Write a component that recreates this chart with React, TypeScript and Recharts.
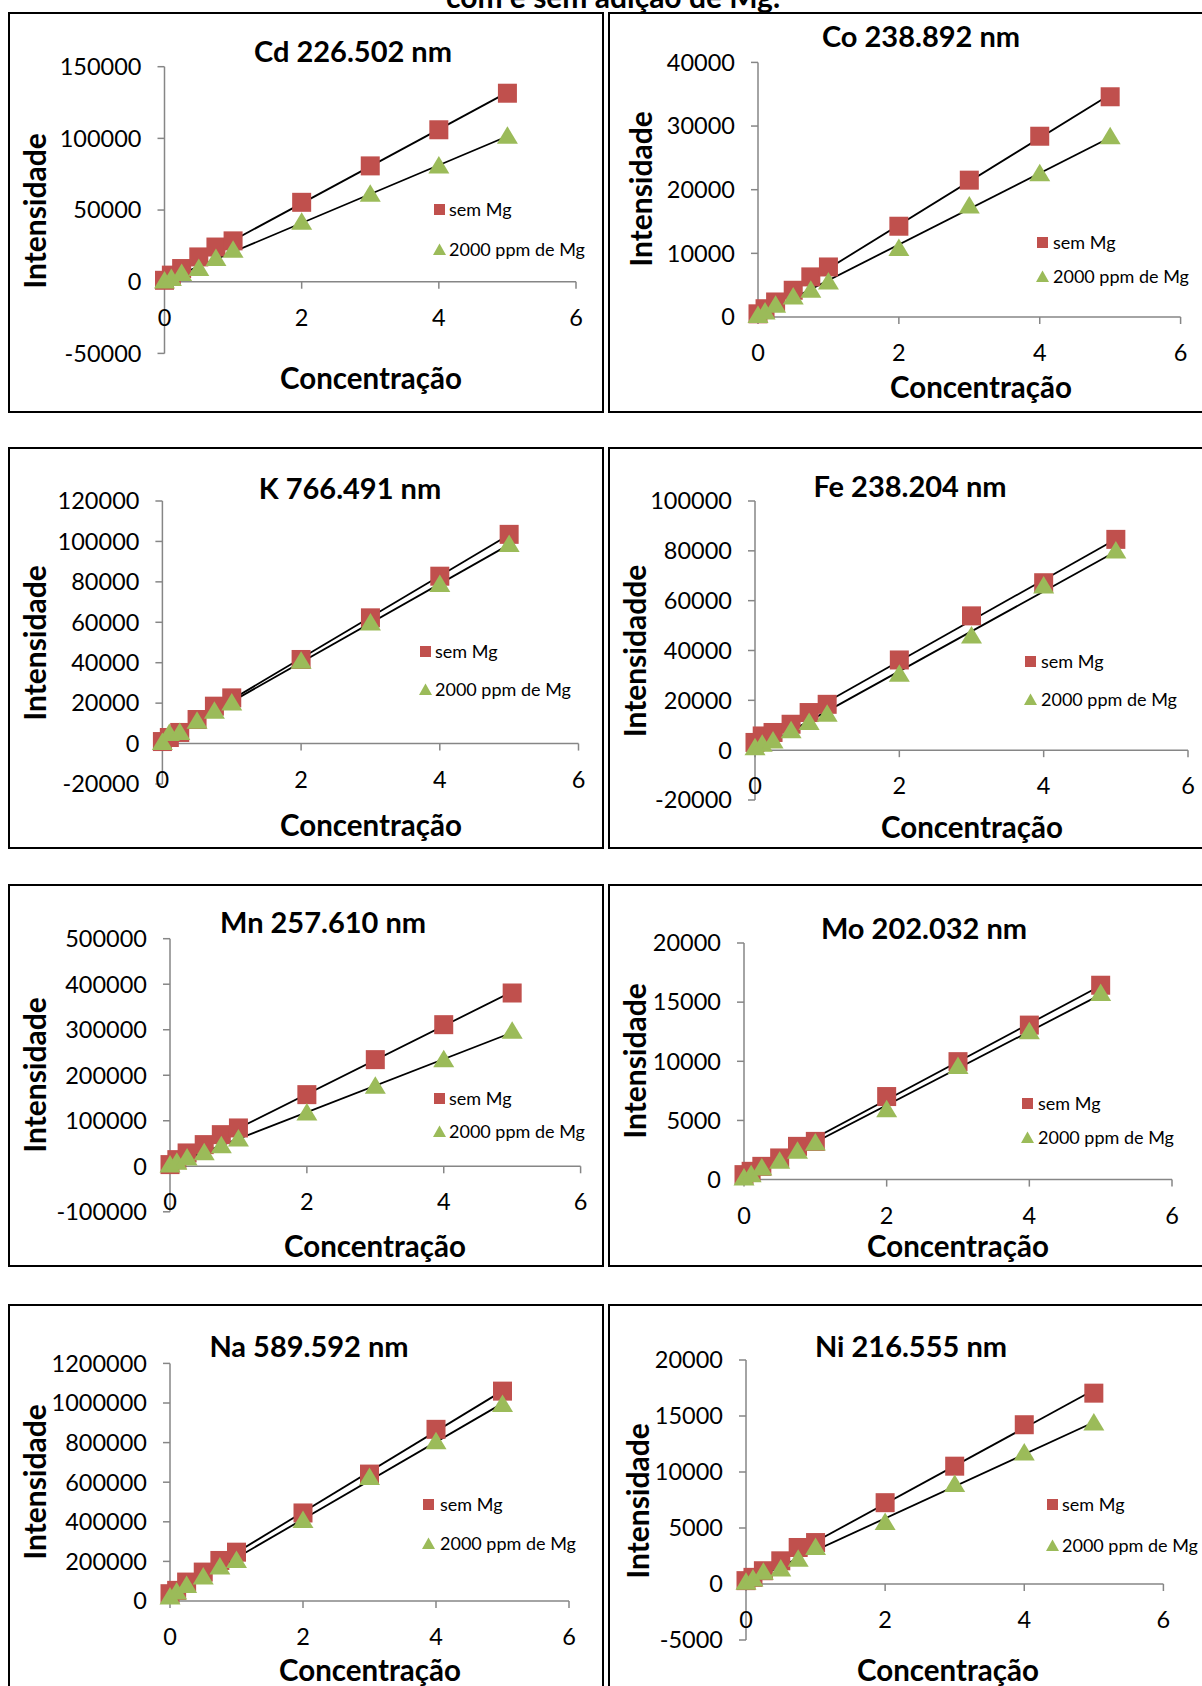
import { ScatterChart, Scatter, XAxis, YAxis, ReferenceLine, ReferenceDot } from "recharts";

// concentrations (x) shared by all curves
const concentracao = [0, 0.1, 0.25, 0.5, 0.75, 1, 2, 3, 4, 5];
const xTicks = [0, 2, 4, 6];
const legendNames = ["sem Mg", "2000 ppm de Mg"];

const cdSemMg = [1000, 4600, 9200, 17300, 24200, 28500, 55400, 80800, 106000, 131500];
const cdComMg = [500, 2300, 5800, 9200, 16200, 21900, 41500, 61100, 80800, 101500];
const cdTicks = [-50000, 0, 50000, 100000, 150000];

const coSemMg = [500, 1300, 2360, 4200, 6300, 7860, 14260, 21500, 28400, 34600];
const coComMg = [250, 800, 1830, 3150, 4200, 5500, 10750, 17450, 22500, 28300];
const coTicks = [0, 10000, 20000, 30000, 40000];

const kSemMg = [1000, 3000, 5500, 11900, 18500, 22600, 41600, 62200, 82800, 103500];
const kComMg = [500, 5000, 5500, 11000, 16000, 20100, 40700, 59700, 78700, 98500];
const kTicks = [-20000, 0, 20000, 40000, 60000, 80000, 100000, 120000];

const feSemMg = [3100, 5700, 7100, 10400, 15100, 18400, 36200, 53900, 67200, 84600];
const feComMg = [1000, 2400, 3700, 7750, 11100, 14400, 30500, 45800, 65900, 79900];
const feTicks = [-20000, 0, 20000, 40000, 60000, 80000, 100000];

const mnSemMg = [3700, 14600, 29300, 47600, 69500, 84200, 157400, 234300, 311100, 380700];
const mnComMg = [3000, 9000, 18000, 30000, 45000, 60000, 117100, 175700, 234300, 296500];
const mnTicks = [-100000, 0, 100000, 200000, 300000, 400000, 500000];

const moSemMg = [420, 700, 1120, 1830, 2810, 3230, 7020, 9970, 13060, 16430];
const moComMg = [140, 420, 983, 1545, 2390, 3090, 5900, 9550, 12500, 15730];
const moTicks = [0, 5000, 10000, 15000, 20000];

const naSemMg = [36900, 53700, 95600, 146000, 204700, 246600, 444600, 641000, 867000, 1060000];
const naComMg = [20100, 45300, 78900, 120800, 171100, 204700, 406000, 624200, 803700, 993000];
const naTicks = [0, 200000, 400000, 600000, 800000, 1000000, 1200000];

const niSemMg = [300, 593, 1185, 2070, 3260, 3700, 7260, 10520, 14220, 17040];
const niComMg = [150, 440, 1040, 1330, 2220, 3260, 5480, 8890, 11700, 14370];
const niTicks = [-5000, 0, 5000, 10000, 15000, 20000];

const RED = "#C0504D";
const GREEN = "#9BBB59";
const AXIS = "#868686";
const FONT = "Lato, 'Open Sans', sans-serif";

type Cfg = {
  title: string;
  yLabel: string;
  sem: number[];
  mg: number[];
  ticks: number[];
  box: number[]; // left, top, width, height
  plot: number[]; // x of y axis, x of 6, y top, y bottom
  titleAt: number[];
  yLabelAt: number[];
  xLabelAt: number[];
  legendAt: number[]; // marker x, square y, triangle y, text x
};

const charts: Cfg[] = [
  {
    title: "Cd 226.502 nm", yLabel: "Intensidade", sem: cdSemMg, mg: cdComMg, ticks: cdTicks,
    box: [8, 12, 596, 401], plot: [164.5, 576, 66.7, 353.4],
    titleAt: [353, 50], yLabelAt: [34, 211], xLabelAt: [371, 378], legendAt: [439, 209, 249, 449],
  },
  {
    title: "Co 238.892 nm", yLabel: "Intensidade", sem: coSemMg, mg: coComMg, ticks: coTicks,
    box: [608, 12, 610, 401], plot: [758, 1180.6, 62.4, 317],
    titleAt: [921, 35], yLabelAt: [640, 189], xLabelAt: [981, 387], legendAt: [1042, 242, 276, 1053],
  },
  {
    title: "K 766.491 nm", yLabel: "Intensidade", sem: kSemMg, mg: kComMg, ticks: kTicks,
    box: [8, 447, 596, 402], plot: [162.4, 578.5, 501, 784],
    titleAt: [350, 487], yLabelAt: [34, 643], xLabelAt: [371, 825], legendAt: [425, 651, 689, 435],
  },
  {
    title: "Fe 238.204 nm", yLabel: "Intensidadde", sem: feSemMg, mg: feComMg, ticks: feTicks,
    box: [608, 447, 610, 402], plot: [755, 1188, 501, 800],
    titleAt: [910, 485], yLabelAt: [634, 651], xLabelAt: [972, 827], legendAt: [1030, 661, 699, 1041],
  },
  {
    title: "Mn 257.610 nm", yLabel: "Intensidade", sem: mnSemMg, mg: mnComMg, ticks: mnTicks,
    box: [8, 884, 596, 383], plot: [170, 580.6, 938.7, 1211.8],
    titleAt: [323, 921], yLabelAt: [34, 1075], xLabelAt: [375, 1246], legendAt: [439, 1098, 1131, 449],
  },
  {
    title: "Mo 202.032 nm", yLabel: "Intensidade", sem: moSemMg, mg: moComMg, ticks: moTicks,
    box: [608, 884, 610, 383], plot: [744, 1172, 943, 1179.6],
    titleAt: [924, 927], yLabelAt: [634, 1061], xLabelAt: [958, 1246], legendAt: [1027, 1103, 1137, 1038],
  },
  {
    title: "Na 589.592 nm", yLabel: "Intensidade", sem: naSemMg, mg: naComMg, ticks: naTicks,
    box: [8, 1304, 596, 420], plot: [170, 569, 1363.4, 1601],
    titleAt: [309, 1345], yLabelAt: [34, 1482], xLabelAt: [370, 1670], legendAt: [428, 1504, 1543, 440],
  },
  {
    title: "Ni 216.555 nm", yLabel: "Intensidade", sem: niSemMg, mg: niComMg, ticks: niTicks,
    box: [608, 1304, 610, 420], plot: [746, 1163.4, 1360, 1640],
    titleAt: [911, 1345], yLabelAt: [637, 1501], xLabelAt: [948, 1670], legendAt: [1052, 1504, 1545, 1062],
  },
];

// least squares linear trendline
const fit = (xs: number[], ys: number[]) => {
  const n = xs.length;
  const mx = xs.reduce((a, b) => a + b, 0) / n;
  const my = ys.reduce((a, b) => a + b, 0) / n;
  let num = 0;
  let den = 0;
  xs.forEach((x, i) => {
    num += (x - mx) * (ys[i] - my);
    den += (x - mx) * (x - mx);
  });
  const m = num / den;
  return { m, b: my - m * mx };
};

const Square = (p: any) => (
  <rect x={p.cx - 9.5} y={p.cy - 9.5} width={19} height={19} fill={RED} />
);
const Triangle = (p: any) => (
  <polygon
    points={`${p.cx},${p.cy - 10} ${p.cx + 10.5},${p.cy + 7.5} ${p.cx - 10.5},${p.cy + 7.5}`}
    fill={GREEN}
  />
);

const centered = (x: number, y: number, extra: any = {}) => ({
  position: "absolute" as const,
  left: x,
  top: y,
  transform: `translate(-50%, -50%) ${extra.rotate ? "rotate(-90deg)" : ""}`,
  whiteSpace: "nowrap" as const,
  fontFamily: FONT,
  color: "#000",
  lineHeight: 1,
});

const CalChart = ({ c }: { c: Cfg }) => {
  const [left, top, width, height] = c.box;
  const [x0, x6, yTop, yBot] = c.plot;
  const sem = concentracao.map((x, i) => ({ x, y: c.sem[i] }));
  const mg = concentracao.map((x, i) => ({ x, y: c.mg[i] }));
  const f1 = fit(concentracao, c.sem);
  const f2 = fit(concentracao, c.mg);
  const xEnd = concentracao[concentracao.length - 1];
  const domain: [number, number] = [c.ticks[0], c.ticks[c.ticks.length - 1]];
  const [mx, sqY, triY, textX] = c.legendAt;

  return (
    <>
      <div
        style={{
          position: "absolute", left, top, width, height,
          border: "2px solid #000", boxSizing: "border-box",
        }}
      />
      <div style={{ position: "absolute", left, top }}>
        <ScatterChart
          width={width}
          height={height}
          margin={{ top: yTop - top, right: left + width - x6, bottom: top + height - yBot, left: 0 }}
        >
          <XAxis type="number" dataKey="x" domain={[0, 6]} hide height={0} />
          <YAxis
            type="number"
            dataKey="y"
            domain={domain}
            ticks={c.ticks}
            interval={0}
            width={x0 - left}
            axisLine={{ stroke: AXIS, strokeWidth: 1.5 }}
            tickLine={{ stroke: AXIS, strokeWidth: 1.5 }}
            tickSize={7}
            tickMargin={16}
            tick={{ fill: "#000", fontSize: 23.5, fontFamily: FONT }}
          />
          <ReferenceLine y={0} stroke={AXIS} strokeWidth={1.5} ifOverflow="visible" />
          {xTicks.map((t) => (
            <ReferenceDot
              key={t}
              x={t}
              y={0}
              r={0}
              ifOverflow="visible"
              shape={(p: any) => (
                <g>
                  <line x1={p.cx} y1={p.cy} x2={p.cx} y2={p.cy + 7} stroke={AXIS} strokeWidth={1.5} />
                  <text
                    x={p.cx}
                    y={p.cy + 35}
                    textAnchor="middle"
                    dominantBaseline="central"
                    fontSize={23.5}
                    fontFamily={FONT}
                    fill="#000"
                  >
                    {t}
                  </text>
                </g>
              )}
            />
          ))}
          <Scatter name={legendNames[0]} data={sem} shape={Square} isAnimationActive={false} />
          <Scatter name={legendNames[1]} data={mg} shape={Triangle} isAnimationActive={false} />
          <ReferenceLine
            segment={[{ x: 0, y: f1.b }, { x: xEnd, y: f1.m * xEnd + f1.b }]}
            stroke="#000"
            strokeWidth={1.8}
            ifOverflow="visible"
          />
          <ReferenceLine
            segment={[{ x: 0, y: f2.b }, { x: xEnd, y: f2.m * xEnd + f2.b }]}
            stroke="#000"
            strokeWidth={1.8}
            ifOverflow="visible"
          />
        </ScatterChart>
      </div>
      <div style={{ ...centered(c.titleAt[0], c.titleAt[1]), fontSize: 29, fontWeight: 700 }}>{c.title}</div>
      <div style={{ ...centered(c.yLabelAt[0], c.yLabelAt[1], { rotate: true }), fontSize: 30, fontWeight: 700 }}>
        {c.yLabel}
      </div>
      <div style={{ ...centered(c.xLabelAt[0], c.xLabelAt[1]), fontSize: 29.5, fontWeight: 700 }}>
        Concentração
      </div>
      <div style={{ position: "absolute", left: mx - 5.5, top: sqY - 5.5, width: 11, height: 11, background: RED }} />
      <svg style={{ position: "absolute", left: mx - 6.5, top: triY - 6.5 }} width={13} height={13}>
        <polygon points="6.5,0.5 13,12 0,12" fill={GREEN} />
      </svg>
      <div style={{ ...centered(textX, sqY), transform: "translateY(-50%)", fontSize: 18 }}>{legendNames[0]}</div>
      <div style={{ ...centered(textX, triY), transform: "translateY(-50%)", fontSize: 18 }}>{legendNames[1]}</div>
    </>
  );
};

export default function App() {
  return (
    <div
      style={{
        position: "absolute", left: 0, top: 0, width: 1202, height: 1686,
        overflow: "hidden", background: "#fff",
      }}
    >
      <div
        style={{
          position: "absolute", left: 446, top: -19, fontFamily: FONT, fontSize: 30,
          fontWeight: 700, lineHeight: 1, whiteSpace: "nowrap",
        }}
      >
        com e sem adição de Mg.
      </div>
      {charts.map((c) => (
        <CalChart key={c.title} c={c} />
      ))}
    </div>
  );
}
